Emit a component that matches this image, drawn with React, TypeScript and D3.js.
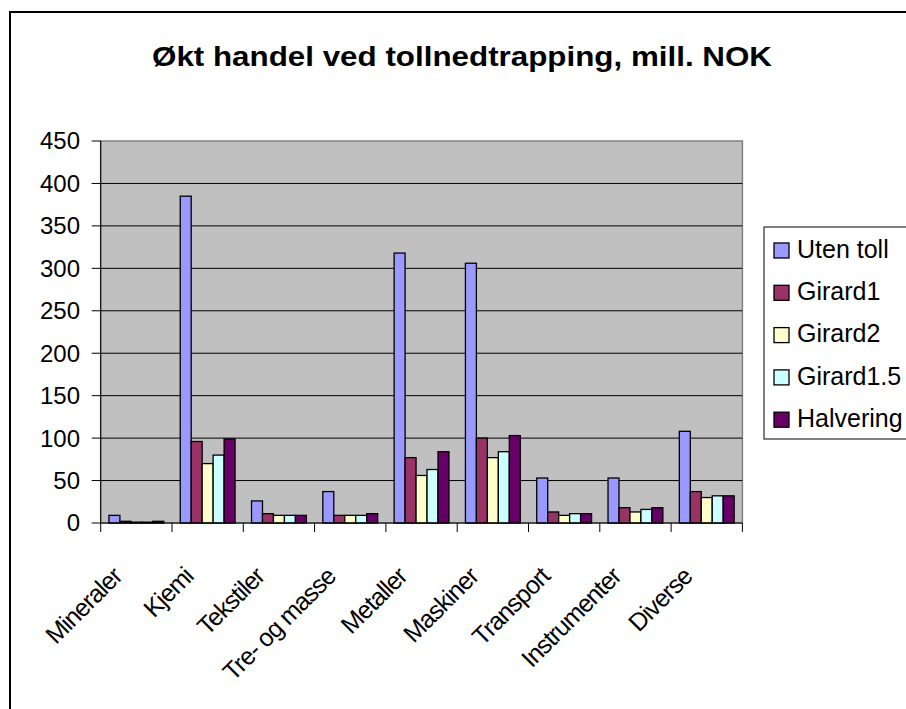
import React from "react";
import * as d3 from "d3";

const categories = ["Mineraler", "Kjemi", "Tekstiler", "Tre- og masse", "Metaller", "Maskiner", "Transport", "Instrumenter", "Diverse"];
const seriesNames = ["Uten toll", "Girard1", "Girard2", "Girard1.5", "Halvering"];
const seriesColors = ["#9999FF", "#993366", "#FFFFCC", "#CCFFFF", "#660066"];
const utenToll = [9, 385, 26, 37, 318, 306, 53, 53, 108];
const girard1 = [2, 96, 11, 9, 77, 100, 13, 18, 37];
const girard2 = [1, 70, 9, 9, 56, 77, 9, 13, 30];
const girard15 = [1, 80, 9, 9, 63, 84, 11, 16, 32];
const halvering = [2, 99, 9, 11, 84, 103, 11, 18, 32];
const yTicks = [0, 50, 100, 150, 200, 250, 300, 350, 400, 450];

const seriesValues = [utenToll, girard1, girard2, girard15, halvering];

const W = 906;
const H = 709;
const plotL = 100.7;
const plotR = 742.4;
const plotT = 141;
const plotB = 523;
const FONT = "Arial, 'Liberation Sans', Helvetica, sans-serif";

export default function App() {
  const x = d3.scaleBand<string>().domain(categories).range([plotL, plotR]).paddingInner(0).paddingOuter(0);
  const y = d3.scaleLinear().domain([0, 450]).range([plotB, plotT]);
  const catW = x.bandwidth();
  const bw = catW / 6.5;
  const sub = d3.scaleBand<string>().domain(seriesNames).range([0.75 * bw, 0.75 * bw + 5 * bw]);

  return (
    <svg width={W} height={H} style={{ position: "absolute", left: 0, top: 0, background: "#fff" }}>
      <rect x={10} y={12} width={W + 20} height={H + 20} fill="#fff" stroke="#000" strokeWidth={2} />
      <text x={462} y={66} textAnchor="middle" fontFamily={FONT} fontWeight="bold" fontSize={28} textLength={620} lengthAdjust="spacingAndGlyphs">
        Økt handel ved tollnedtrapping, mill. NOK
      </text>
      {/* plot area */}
      <rect x={plotL} y={plotT} width={plotR - plotL} height={plotB - plotT} fill="#C0C0C0" stroke="#808080" strokeWidth={1.5} />
      {yTicks.filter((t) => t > 0 && t < 450).map((t) => (
        <line key={"g" + t} x1={plotL} x2={plotR} y1={y(t)} y2={y(t)} stroke="#000" strokeWidth={1} />
      ))}
      {/* bars */}
      {seriesValues.map((vals, si) =>
        vals.map((v, ci) => (
          <rect
            key={si + "-" + ci}
            x={(x(categories[ci]) as number) + (sub(seriesNames[si]) as number)}
            y={y(v)}
            width={sub.bandwidth()}
            height={plotB - y(v)}
            fill={seriesColors[si]}
            stroke="#000"
            strokeWidth={1.3}
          />
        ))
      )}
      {/* axes */}
      <line x1={plotL} x2={plotL} y1={plotT} y2={plotB} stroke="#000" strokeWidth={1} />
      <line x1={plotL} x2={plotR} y1={plotB} y2={plotB} stroke="#000" strokeWidth={1} />
      {yTicks.map((t) => (
        <g key={"y" + t}>
          <line x1={plotL - 9} x2={plotL} y1={y(t)} y2={y(t)} stroke="#000" strokeWidth={1} />
          <text x={80} y={y(t)} dy="0.35em" textAnchor="end" fontFamily={FONT} fontSize={24}>
            {t}
          </text>
        </g>
      ))}
      {categories.map((c, i) => (
        <line key={"xt" + i} x1={x(c) as number} x2={x(c) as number} y1={plotB} y2={plotB + 9} stroke="#000" strokeWidth={1} />
      ))}
      <line x1={plotR} x2={plotR} y1={plotB} y2={plotB + 9} stroke="#000" strokeWidth={1} />
      {categories.map((c) => {
        const cx = (x(c) as number) + catW / 2 - 13;
        const cy = 578;
        return (
          <text key={"xl" + c} x={cx} y={cy} textAnchor="end" fontFamily={FONT} fontSize={25} letterSpacing={-1} transform={`rotate(-45 ${cx} ${cy})`}>
            {c}
          </text>
        );
      })}
      {/* legend */}
      <rect x={764} y={227} width={200} height={212} fill="#fff" stroke="#000" strokeWidth={1} />
      {seriesNames.map((s, i) => {
        const cy = 249 + i * 42.3;
        return (
          <g key={"lg" + s}>
            <rect x={774} y={cy - 6} width={15} height={15} fill={seriesColors[i]} stroke="#000" strokeWidth={1.3} />
            <text x={797} y={cy} dy="0.35em" fontFamily={FONT} fontSize={25}>
              {s}
            </text>
          </g>
        );
      })}
    </svg>
  );
}
